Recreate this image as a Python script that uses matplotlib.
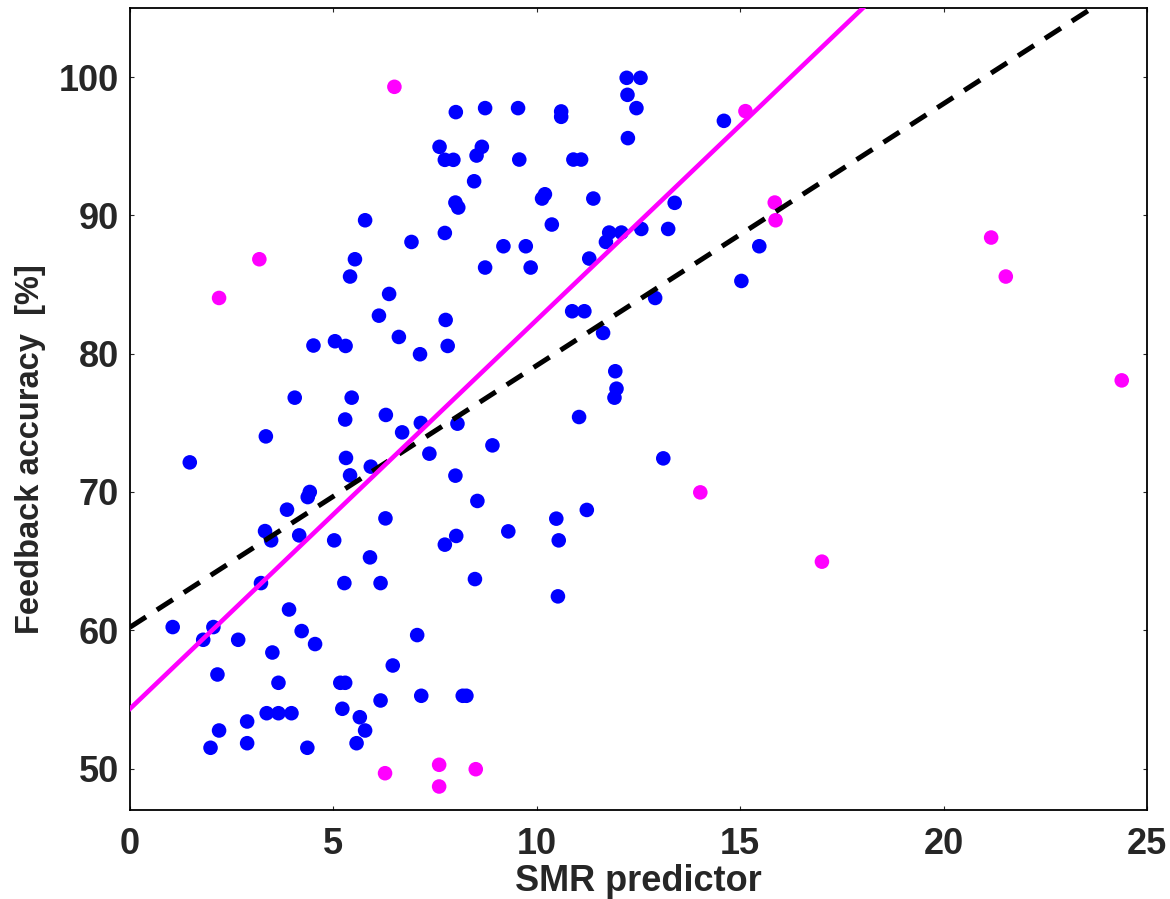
import numpy as np
import matplotlib
matplotlib.use("Agg")
import matplotlib.pyplot as plt

# blue subjects: SMR predictor vs feedback accuracy [%]
blue_x = [8.01, 8.73, 7.61, 7.74, 7.95, 8.65, 8.52, 8.46, 8.00, 8.07,
          5.78, 6.92, 7.74, 5.53, 5.41, 8.73, 6.37, 6.12, 7.76, 6.61,
          4.51, 5.04, 5.30, 7.13, 7.81, 4.05, 5.45, 5.29, 6.29, 7.15,
          6.69, 8.05, 3.34, 1.47, 5.31, 5.41, 5.92, 7.36, 8.91, 8.00,
          8.54, 4.42, 4.37, 3.86, 6.28, 3.32, 3.47, 4.16, 5.02, 7.74,
          8.02, 5.90, 3.22, 5.27, 6.16, 8.48, 3.91, 1.05, 2.05, 1.80,
          2.66, 4.22, 4.55, 3.50, 7.06, 6.46, 2.15, 3.65, 5.17, 5.29,
          7.16, 8.18, 8.27, 6.16, 3.36, 3.65, 3.97, 5.22, 5.65, 2.88,
          2.19, 5.78, 2.88, 5.57, 1.98, 4.36,
          12.21, 12.55, 12.23, 12.45, 12.24, 9.54, 10.60, 10.60, 14.60, 9.57,
          10.90, 11.09, 10.20, 10.13, 11.39, 13.39, 10.37, 9.18, 9.73, 9.85,
          11.29, 11.78, 11.70, 12.08, 12.57, 13.23, 15.47, 15.03, 12.91, 10.87,
          11.17, 11.63, 11.93, 11.96, 11.91, 11.04, 13.11, 11.23, 10.48, 9.30,
          10.54, 10.52]
blue_y = [97.47, 97.76, 94.96, 94.02, 94.02, 94.96, 94.33, 92.47, 90.93, 90.57,
          89.65, 88.08, 88.73, 86.83, 85.58, 86.23, 84.32, 82.75, 82.44, 81.21,
          80.59, 80.90, 80.56, 79.96, 80.56, 76.82, 76.82, 75.24, 75.57, 74.99,
          74.31, 74.94, 74.02, 72.14, 72.46, 71.20, 71.83, 72.77, 73.37, 71.18,
          69.35, 70.00, 69.63, 68.72, 68.09, 67.17, 66.50, 66.86, 66.50, 66.19,
          66.82, 65.27, 63.41, 63.41, 63.41, 63.70, 61.50, 60.23, 60.23, 59.31,
          59.31, 59.94, 59.00, 58.39, 59.65, 57.45, 56.80, 56.20, 56.20, 56.20,
          55.26, 55.26, 55.26, 54.92, 54.00, 54.00, 54.00, 54.32, 53.71, 53.40,
          52.75, 52.75, 51.83, 51.83, 51.50, 51.50,
          99.95, 99.95, 98.72, 97.76, 95.59, 97.76, 97.52, 97.13, 96.84, 94.04,
          94.04, 94.04, 91.53, 91.22, 91.22, 90.91, 89.34, 87.77, 87.77, 86.23,
          86.88, 88.76, 88.08, 88.76, 89.02, 89.02, 87.77, 85.26, 84.03, 83.07,
          83.07, 81.50, 78.73, 77.47, 76.82, 75.42, 72.43, 68.70, 68.07, 67.15,
          66.50, 62.45]

# magenta subjects
mag_x = [6.50, 3.18, 2.19, 6.27, 7.60, 7.60, 8.50, 15.13, 15.85, 15.87,
         14.02, 17.01, 21.17, 21.53, 24.38]
mag_y = [99.30, 86.83, 84.03, 49.66, 50.27, 48.70, 49.95, 97.54, 90.93, 89.65,
         69.97, 64.96, 88.40, 85.58, 78.07]

# regression lines (intercept, slope)
fit_all = (60.22, 1.893)
fit_blue = (54.32, 2.813)
fit_x = np.array([0, 25])

text_col = '#262626'
plt.rcParams['font.family'] = ['Liberation Sans', 'DejaVu Sans']
plt.rcParams['font.weight'] = 'bold'

fig = plt.figure(figsize=(11.7, 8.99), dpi=100)
ax = fig.add_axes([0.1111, 0.0990, 0.8692, 0.8921])

ax.scatter(blue_x, blue_y, s=110, color='#0000ff', edgecolors='none', zorder=3)
ax.scatter(mag_x, mag_y, s=110, color='#ff00ff', edgecolors='none', zorder=3)
ax.plot(fit_x, fit_all[0] + fit_all[1] * fit_x, color='black', lw=3.6,
        dashes=(3.8, 2.6), zorder=4)
ax.plot(fit_x, fit_blue[0] + fit_blue[1] * fit_x, color='#ff00ff', lw=3.3, zorder=4)

ax.set_xlim(0, 25)
ax.set_ylim(47, 105)
ax.set_xticks([0, 5, 10, 15, 20, 25])
ax.set_yticks([50, 60, 70, 80, 90, 100])
ax.tick_params(direction='in', top=True, right=True, length=3, width=0.8,
               labelsize=26, labelcolor=text_col, color=text_col)
ax.tick_params(axis='x', pad=12)
ax.tick_params(axis='y', pad=8)
for s in ax.spines.values():
    s.set_linewidth(1.3)
    s.set_color('black')

ax.set_xlabel('SMR predictor', fontsize=26, fontweight='bold', color=text_col, labelpad=2)
ax.set_ylabel('Feedback accuracy  [%]', fontsize=23.5, fontweight='bold', color=text_col)
ax.yaxis.set_label_coords(-0.083, 0.45)

fig.savefig('out.png', dpi=100)
